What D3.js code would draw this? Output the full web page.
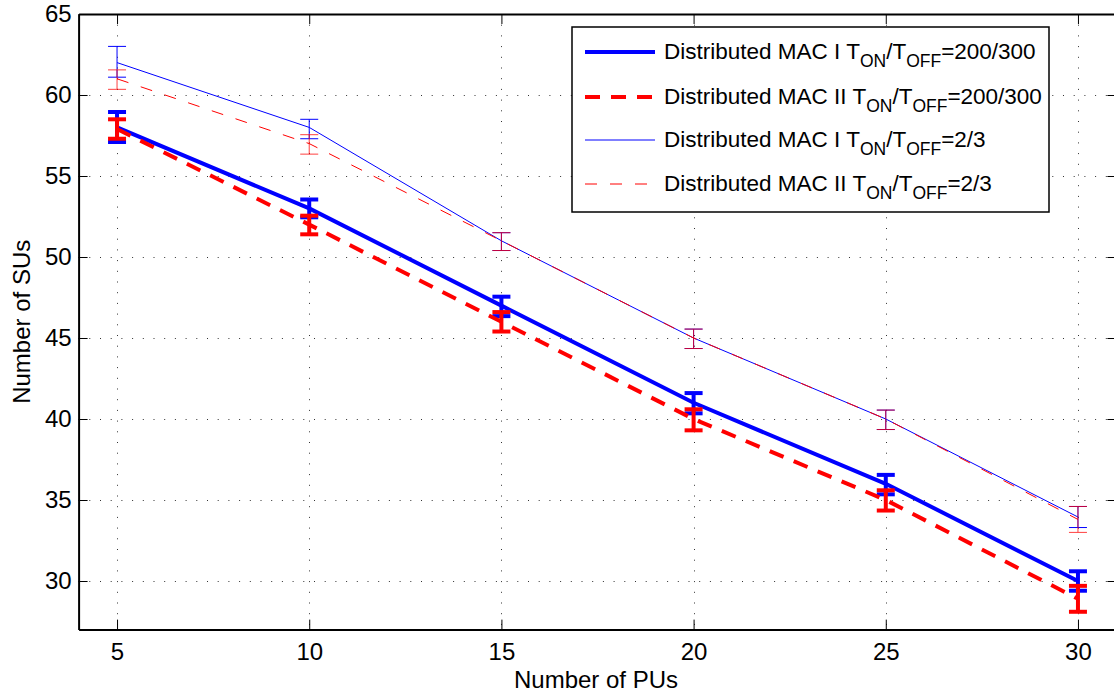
<!DOCTYPE html>
<html>
<head>
<meta charset="utf-8">
<script src="https://cdn.jsdelivr.net/npm/d3@7"></script>
<style>
  body { margin: 0; background: #fff; }
  svg { display: block; font-family: "Liberation Sans", Arial, sans-serif; }
</style>
</head>
<body>
<svg id="chart" width="1114" height="696"></svg>
<script>
const pus = [5, 10, 15, 20, 25, 30];
const xTicks = [5, 10, 15, 20, 25, 30];
const yTicks = [30, 35, 40, 45, 50, 55, 60, 65];

const mac1Long = [58, 53, 47, 41, 36, 30];
const mac1LongLow = [57.1, 52.45, 46.35, 40.35, 35.35, 29.4];
const mac1LongHigh = [58.95, 53.55, 47.55, 41.6, 36.55, 30.6];

const mac2Long = [57.9, 52, 46, 40, 35, 28.9];
const mac2LongLow = [57.3, 51.4, 45.4, 39.3, 34.35, 28.1];
const mac2LongHigh = [58.5, 52.55, 46.6, 40.6, 35.6, 29.7];

const mac1Short = [62, 58, 51, 45, 40, 33.95];
const mac1ShortLow = [61.1, 57.3, 50.4, 44.35, 39.35, 33.3];
const mac1ShortHigh = [63, 58.5, 51.5, 45.55, 40.55, 34.6];

const mac2Short = [61, 57, 51, 45, 40, 33.8];
const mac2ShortLow = [60.35, 56.35, 50.4, 44.35, 39.35, 33];
const mac2ShortHigh = [61.55, 57.55, 51.5, 45.55, 40.55, 34.6];

const series = [
  { name: "Distributed MAC I ", ratio: "=200/300", y: mac1Long, lo: mac1LongLow, hi: mac1LongHigh, color: "#0000ff", width: 4, dash: null, barOpacity: 1 },
  { name: "Distributed MAC II ", ratio: "=200/300", y: mac2Long, lo: mac2LongLow, hi: mac2LongHigh, color: "#ff0000", width: 4, dash: "15,11", barOpacity: 1 },
  { name: "Distributed MAC I ", ratio: "=2/3", y: mac1Short, lo: mac1ShortLow, hi: mac1ShortHigh, color: "#0000ff", width: 1, dash: null, barOpacity: 1 },
  { name: "Distributed MAC II ", ratio: "=2/3", y: mac2Short, lo: mac2ShortLow, hi: mac2ShortHigh, color: "#ff0000", width: 1, dash: "12,13", barOpacity: 0.75 }
];

const svg = d3.select("#chart");

const x = d3.scaleLinear().domain([4, 31]).range([78.6, 1116.4]);
const y = d3.scaleLinear().domain([27, 65]).range([629.6, 14]);

const [x0, x1] = x.range();
const [y0, y1] = y.range();

// grid
const grid = svg.append("g").attr("stroke", "#333").attr("stroke-width", 1).attr("stroke-dasharray", "1,9.7");
grid.selectAll(".vg").data(xTicks).join("line")
  .attr("x1", d => Math.round(x(d)) + 0.5).attr("x2", d => Math.round(x(d)) + 0.5)
  .attr("y1", y1).attr("y2", y0);
grid.selectAll(".hg").data(yTicks).join("line")
  .attr("y1", d => Math.round(y(d)) + 0.5).attr("y2", d => Math.round(y(d)) + 0.5)
  .attr("x1", x0).attr("x2", x1);

// axes with inward ticks on all sides
const axisB = d3.axisBottom(x).tickValues(xTicks).tickSizeInner(-10).tickSizeOuter(0).tickPadding(13);
const axisT = d3.axisTop(x).tickValues(xTicks).tickSizeInner(-10).tickSizeOuter(0).tickFormat("");
const axisL = d3.axisLeft(y).tickValues(yTicks).tickSizeInner(-9).tickSizeOuter(0).tickPadding(7);
const axisR = d3.axisRight(y).tickValues(yTicks).tickSizeInner(-9).tickSizeOuter(0).tickFormat("");

const styleAxis = g => {
  g.select(".domain").attr("stroke", "#000").attr("stroke-width", 2);
  g.selectAll(".tick line").attr("stroke", "#000").attr("stroke-width", 1);
  g.selectAll(".tick text").attr("font-size", 24).attr("fill", "#000").attr("font-family", "Liberation Sans, Arial, sans-serif");
};

svg.append("g").attr("transform", `translate(0,${y0})`).call(axisB).call(styleAxis);
svg.append("g").attr("transform", `translate(0,${y1})`).call(axisT).call(styleAxis);
svg.append("g").attr("transform", `translate(${x0},0)`).call(axisL).call(styleAxis);
svg.append("g").attr("transform", `translate(${x1},0)`).call(axisR).call(styleAxis);

// series
const line = d3.line().x((d, i) => x(pus[i])).y(d => y(d));

series.forEach(s => {
  const g = svg.append("g");
  g.append("path")
    .attr("d", line(s.y))
    .attr("fill", "none")
    .attr("stroke", s.color)
    .attr("stroke-width", s.width)
    .attr("stroke-dasharray", s.dash);

  const bars = g.append("g").attr("stroke", s.color).attr("stroke-width", s.width).attr("opacity", s.barOpacity);
  pus.forEach((p, i) => {
    const cx = x(p);
    bars.append("line").attr("x1", cx).attr("x2", cx).attr("y1", y(s.lo[i])).attr("y2", y(s.hi[i]));
    bars.append("line").attr("x1", cx - 9).attr("x2", cx + 9).attr("y1", y(s.lo[i])).attr("y2", y(s.lo[i]));
    bars.append("line").attr("x1", cx - 9).attr("x2", cx + 9).attr("y1", y(s.hi[i])).attr("y2", y(s.hi[i]));
  });
});

// axis labels
svg.append("text")
  .attr("x", 596).attr("y", 688)
  .attr("text-anchor", "middle").attr("font-size", 24)
  .text("Number of PUs");

svg.append("text")
  .attr("transform", `translate(30,${(y0 + y1) / 2}) rotate(-90)`)
  .attr("text-anchor", "middle").attr("font-size", 24)
  .text("Number of SUs");

// legend
const legend = svg.append("g");
legend.append("rect")
  .attr("x", 572).attr("y", 27).attr("width", 477).attr("height", 185)
  .attr("fill", "#fff").attr("stroke", "#000").attr("stroke-width", 1.5);

const rowY = [52, 97, 140, 184];
series.forEach((s, i) => {
  legend.append("line")
    .attr("x1", 585).attr("x2", 655).attr("y1", rowY[i]).attr("y2", rowY[i])
    .attr("stroke", s.color).attr("stroke-width", s.width)
    .attr("stroke-dasharray", s.dash);
  const t = legend.append("text")
    .attr("x", 664).attr("y", rowY[i] + 7).attr("font-size", 22.5);
  t.append("tspan").text(s.name + "T");
  t.append("tspan").attr("dy", 8).attr("font-size", 17.5).text("ON");
  t.append("tspan").attr("dy", -8).text("/T");
  t.append("tspan").attr("dy", 8).attr("font-size", 17.5).text("OFF");
  t.append("tspan").attr("dy", -8).text(s.ratio);
});
</script>
</body>
</html>
